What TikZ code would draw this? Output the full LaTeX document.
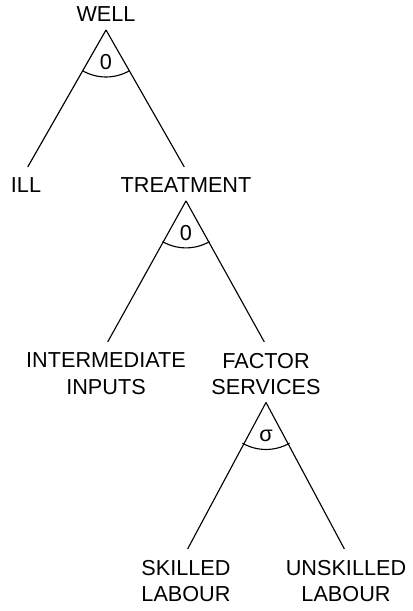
\documentclass[tikz,border=0pt]{standalone}
\usepackage{fontspec}
\setmainfont{Liberation Sans}

\tikzset{
  lbl/.style={font=\fontsize{15.4}{18.6}\selectfont, align=center, inner sep=0pt, outer xsep=0pt, outer ysep=0.2cm},
  elas/.style={font=\fontsize{15.4}{18.6}\selectfont, inner sep=0pt, anchor=base},
  branch/.style={line width=0.8pt, shorten >=2.5pt},
  nest/.style={line width=0.8pt}
}

\begin{document}
\begin{tikzpicture}
\useasboundingbox (0,0) rectangle (10.3,15.275);

% tree levels
\node [lbl, anchor=south] (well) at (2.65,14.525) {WELL};
\node [lbl, anchor=north] (ill) at (0.65,11.025) {ILL};
\node [lbl, anchor=north] (treatment) at (4.65,11.025) {TREATMENT};
\node [lbl, anchor=north] (intermediate) at (2.65,6.65) {INTERMEDIATE\\INPUTS};
\node [lbl, anchor=north] (factor) at (6.65,6.65) {FACTOR\\SERVICES};
\node [lbl, anchor=north] (skilled) at (4.65,1.475) {SKILLED\\LABOUR};
\node [lbl, anchor=north] (unskilled) at (8.65,1.475) {UNSKILLED\\LABOUR};

\draw [branch] (well.south) -- (ill.north);
\draw [branch] (well.south) -- (treatment.north);
\draw [branch] (treatment.south) -- (intermediate.north);
\draw [branch] (treatment.south) -- (factor.north);
\draw [branch] (factor.south) -- (skilled.north);
\draw [branch] (factor.south) -- (unskilled.north);

% substitution arcs
\draw [nest] (well.south) ++(240:1.175) arc (240:300:1.175);
\draw [nest] (treatment.south) ++(240:1.175) arc (240:300:1.175);
\draw [nest] (factor.south) ++(240:1.175) arc (240:300:1.175);
\node [elas] (zeroWell) at ([yshift=-1cm]well.south) {0};
\node [elas] (zeroTreat) at ([yshift=-1cm]treatment.south) {0};
\node [elas] (sigmaFactor) at ([yshift=-0.98cm]factor.south) {σ};
\end{tikzpicture}
\end{document}
